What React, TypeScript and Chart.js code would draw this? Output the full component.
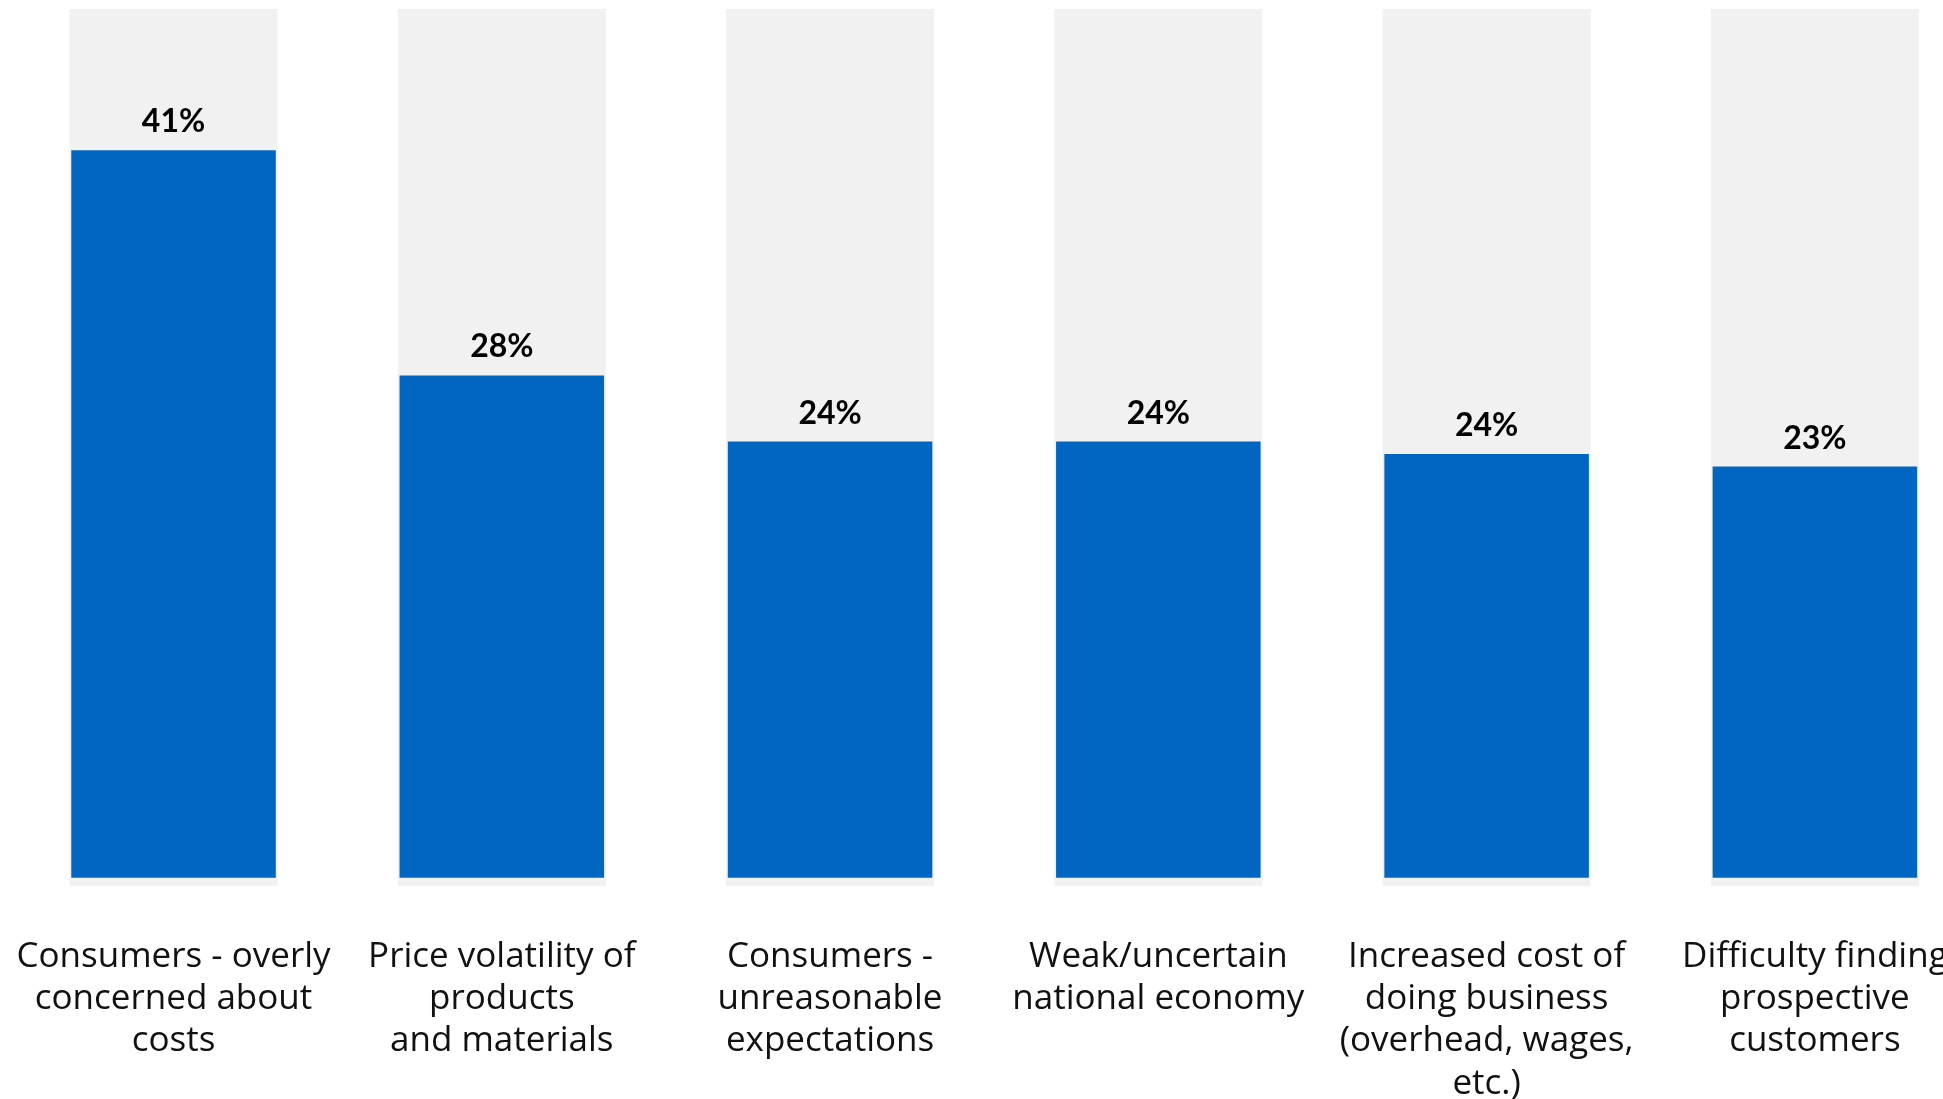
import React, { useEffect, useRef } from "react";
import { Chart, registerables } from "chart.js";

Chart.register(...registerables);

const categories: string[][] = [
  ["Consumers - overly", "concerned about", "costs"],
  ["Price volatility of", "products", "and materials"],
  ["Consumers -", "unreasonable", "expectations"],
  ["Weak/uncertain", "national economy"],
  ["Increased cost of", "doing business", "(overhead, wages,", "etc.)"],
  ["Difficulty finding", "prospective", "customers"],
];

const values: number[] = [40.7, 28.1, 24.4, 24.4, 23.7, 23.0];

const backgroundRange: [number, number] = [-0.5, 48.6];

const BLUE = "#0066C2";
const GREY = "#F1F1F1";
const LABEL_FONT = "'Open Sans'";
const VALUE_FONT = "Lato";

const valueLabelPlugin = {
  id: "valueLabels",
  afterDatasetsDraw(chart: any) {
    const meta = chart.getDatasetMeta(1);
    const ctx = chart.ctx;
    ctx.save();
    ctx.font = `700 32px ${VALUE_FONT}`;
    ctx.fillStyle = "#000000";
    ctx.textAlign = "center";
    ctx.textBaseline = "alphabetic";
    meta.data.forEach((el: any, i: number) => {
      ctx.fillText(`${Math.round(values[i])}%`, el.x, el.y - 18);
    });
    ctx.restore();
  },
};

export default function App() {
  const ref = useRef<HTMLCanvasElement | null>(null);

  useEffect(() => {
    if (!ref.current) return;
    const chart = new Chart(ref.current, {
      type: "bar",
      data: {
        labels: categories,
        datasets: [
          {
            label: "background",
            data: categories.map(() => backgroundRange) as any,
            backgroundColor: GREY,
            borderWidth: 0,
            grouped: false,
            order: 2,
            barPercentage: 0.634,
            categoryPercentage: 1,
          },
          {
            label: "share",
            data: values,
            backgroundColor: BLUE,
            borderWidth: 0,
            grouped: false,
            order: 1,
            barPercentage: 0.623,
            categoryPercentage: 1,
          },
        ],
      },
      options: {
        responsive: false,
        animation: false,
        devicePixelRatio: 1,
        events: [],
        layout: { padding: { left: 9.4, right: 0, top: 9, bottom: 0 } },
        plugins: {
          legend: { display: false },
          tooltip: { enabled: false },
        },
        scales: {
          x: {
            grid: {
              display: true,
              drawOnChartArea: false,
              drawTicks: true,
              tickLength: 49,
              color: "rgba(0,0,0,0)",
            },
            border: { display: false },
            ticks: {
              autoSkip: false,
              maxRotation: 0,
              minRotation: 0,
              padding: 0,
              color: "#111111",
              font: { family: LABEL_FONT, size: 35, lineHeight: 1.21 },
            },
          },
          y: {
            display: false,
            min: backgroundRange[0],
            max: backgroundRange[1],
          },
        },
      },
      plugins: [valueLabelPlugin],
    });
    return () => chart.destroy();
  }, []);

  return (
    <div
      style={{
        position: "fixed",
        left: 0,
        top: 0,
        width: 1943,
        height: 1099,
        overflow: "hidden",
        background: "#ffffff",
      }}
    >
      <canvas ref={ref} width={1979} height={1105} style={{ display: "block" }} />
    </div>
  );
}
